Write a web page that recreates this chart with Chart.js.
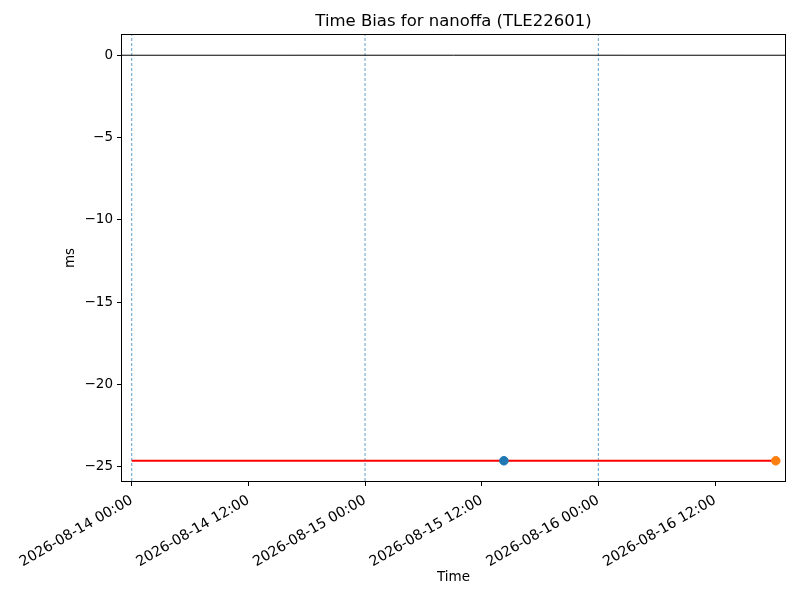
<!DOCTYPE html>
<html>
<head>
<meta charset="utf-8">
<script src="https://cdn.jsdelivr.net/npm/chart.js@4.4.0/dist/chart.umd.min.js"></script>
<style>
  html, body { margin: 0; padding: 0; background: #fff; }
  #wrap { width: 800px; height: 600px; }
</style>
</head>
<body>
<div id="wrap"><canvas id="myChart" width="800" height="600"></canvas></div>
<script>
// data (UTC times)
const xMin = Date.UTC(2026, 7, 13, 23, 0);
const xMax = Date.UTC(2026, 7, 16, 19, 12);
const yMin = -25.88;
const yMax = 1.23;

const xTickTimes = [
    Date.UTC(2026, 7, 14, 0), Date.UTC(2026, 7, 14, 12),
    Date.UTC(2026, 7, 15, 0), Date.UTC(2026, 7, 15, 12),
    Date.UTC(2026, 7, 16, 0), Date.UTC(2026, 7, 16, 12)
];
const yTickValues = [-25, -20, -15, -10, -5, 0];

const dayLines = [Date.UTC(2026, 7, 14), Date.UTC(2026, 7, 15), Date.UTC(2026, 7, 16)];

const biasStart = Date.UTC(2026, 7, 14, 0, 0);
const biasEnd = Date.UTC(2026, 7, 16, 18, 15);
const biasValue = -24.65;

const bluePoint = { x: Date.UTC(2026, 7, 15, 14, 17), y: -24.65 };
const orangePoint = { x: Date.UTC(2026, 7, 16, 18, 15), y: -24.65 };

const titleText = 'Time Bias for nanoffa (TLE22601)';
const fontName = '"DejaVu Sans", sans-serif';

function pad(n) { return String(n).padStart(2, '0'); }
function fmtTime(v) {
    const d = new Date(v);
    return d.getUTCFullYear() + '-' + pad(d.getUTCMonth() + 1) + '-' + pad(d.getUTCDate()) +
        ' ' + pad(d.getUTCHours()) + ':' + pad(d.getUTCMinutes());
}

let datasets = [];
dayLines.forEach(t => {
    datasets.push({
        data: [{ x: t, y: yMin }, { x: t, y: yMax }],
        showLine: true, borderColor: '#1f77b4', borderWidth: 0.7,
        borderDash: [3, 2], pointRadius: 0, order: 5
    });
});
datasets.push({
    data: [{ x: xMin, y: 0 }, { x: xMax, y: 0 }],
    showLine: true, borderColor: '#000', borderWidth: 1, pointRadius: 0, order: 4
});
datasets.push({
    data: [{ x: biasStart, y: biasValue }, { x: biasEnd, y: biasValue }],
    showLine: true, borderColor: '#ff0000', borderWidth: 2, pointRadius: 0, order: 3
});
datasets.push({
    data: [bluePoint], backgroundColor: '#1f77b4', borderColor: '#1f77b4',
    pointRadius: 4.3, order: 2
});
datasets.push({
    data: [orangePoint], backgroundColor: '#ff7f0e', borderColor: '#ff7f0e',
    pointRadius: 4.3, order: 1
});

const frameAndText = {
    id: 'frameAndText',
    afterDraw(chart) {
        const ctx = chart.ctx;
        const a = chart.chartArea;
        ctx.save();
        ctx.strokeStyle = '#000';
        ctx.lineWidth = 1;
        ctx.strokeRect(Math.round(a.left) - 0.5, Math.round(a.top) - 0.5,
            Math.round(a.right - a.left) + 1, Math.round(a.bottom - a.top) + 1);
        ctx.fillStyle = '#000';
        ctx.textAlign = 'center';
        ctx.textBaseline = 'middle';
        ctx.font = '16.5px ' + fontName;
        ctx.fillText(titleText, (a.left + a.right) / 2, 22);
        ctx.font = '13.5px ' + fontName;
        ctx.fillText('Time', (a.left + a.right) / 2, 577);
        ctx.translate(70, (a.top + a.bottom) / 2);
        ctx.rotate(-Math.PI / 2);
        ctx.fillText('ms', 0, 0);
        ctx.restore();
    }
};

Chart.defaults.font.family = fontName;
Chart.defaults.font.size = 13.5;
Chart.defaults.color = '#000';

let chart = new Chart(document.getElementById('myChart').getContext('2d'), {
    type: 'scatter',
    data: { datasets: datasets },
    options: {
        responsive: false,
        animation: false,
        layout: { padding: { left: 0, top: 35, right: 15, bottom: 0 } },
        plugins: { legend: { display: false }, tooltip: { enabled: false } },
        scales: {
            x: {
                type: 'linear', min: xMin, max: xMax,
                afterBuildTicks: s => { s.ticks = xTickTimes.map(v => ({ value: v })); },
                afterFit: s => { s.height = 119; },
                ticks: {
                    autoSkip: false, minRotation: 30, maxRotation: 30, padding: 6,
                    font: { size: 14.2 },
                    callback: v => fmtTime(v)
                },
                grid: { drawOnChartArea: false, tickLength: 5, color: '#000', tickWidth: 1 },
                border: { display: false }
            },
            y: {
                min: yMin, max: yMax,
                afterBuildTicks: s => { s.ticks = yTickValues.map(v => ({ value: v })); },
                afterFit: s => { s.width = 122; },
                ticks: {
                    padding: 4,
                    callback: v => (v < 0 ? '\u2212' + Math.abs(v) : String(v))
                },
                grid: { drawOnChartArea: false, tickLength: 5, color: '#000', tickWidth: 1 },
                border: { display: false }
            }
        }
    },
    plugins: [frameAndText]
});
</script>
</body>
</html>
